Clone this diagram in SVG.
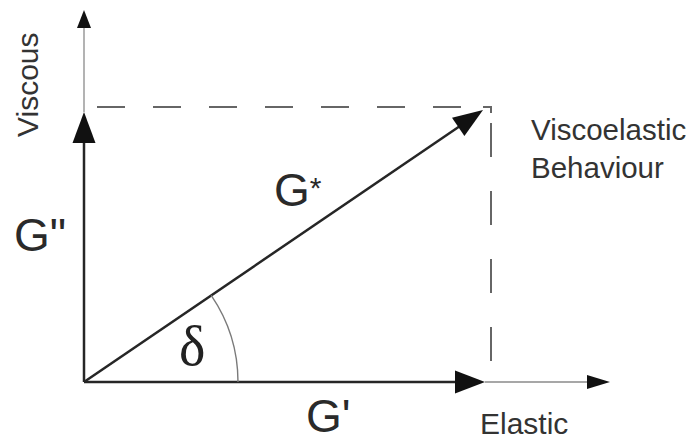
<svg xmlns="http://www.w3.org/2000/svg" width="691" height="441" viewBox="0 0 691 441">
<style>
.lbl{font-family:"Liberation Sans",Arial,sans-serif;fill:#333}
.big{font-family:"Liberation Sans",Arial,sans-serif;font-size:46px;fill:#2a2a2a}
.thin{stroke:#8a8a8a;stroke-width:1.3;fill:none}
.vec{stroke:#262626;stroke-width:2.5;fill:none}
.head{fill:#111}
.dash{stroke:#666;stroke-width:2;fill:none}
</style>
<rect width="691" height="441" fill="#fff"/>
<g id="connectors">
  <path class="thin" d="M84 112 V28"/>
  <polygon class="head" points="84,10 77,28 91,28"/>
  <path class="thin" d="M485 382 H590"/>
  <polygon class="head" points="610,382 587,375 587,389"/>
  <path class="dash" d="M84 107 H483" stroke-dasharray="28 28" stroke-dashoffset="43"/>
  <path class="dash" d="M483 107 H491 V113"/>
  <path class="dash" d="M491 107 V382" stroke-dasharray="34 34" stroke-dashoffset="52"/>
  <path class="vec" d="M84 382 V140"/>
  <polygon class="head" points="84,112 72.5,143 95.5,143"/>
  <path class="vec" d="M84 382 H458"/>
  <polygon class="head" points="485,382 455,370.5 455,393.5"/>
  <path class="vec" d="M84 382 L460 126"/>
  <polygon class="head" points="483,110 452,117.8 464.4,136"/>
  <path d="M238 382 A154 154 0 0 0 211.2 295.3" fill="none" stroke="#7a7a7a" stroke-width="1.4"/>
</g>
<g id="viscous-axis">
  <text class="lbl" font-size="30" transform="translate(38,137) rotate(-90)">Viscous</text>
</g>
<g id="elastic-axis">
  <text class="lbl" font-size="30" x="480" y="434">Elastic</text>
</g>
<g id="g-double-prime">
  <text class="big" x="14" y="251">G"</text>
</g>
<g id="g-prime">
  <text class="big" font-size="44" x="306" y="432">G'</text>
</g>
<g id="g-star">
  <text class="big" x="274" y="206">G<tspan font-size="30" dy="-8">*</tspan></text>
</g>
<g id="delta">
  <text x="179" y="365" font-family="'Liberation Serif','Times New Roman',serif" font-size="56" fill="#222">δ</text>
</g>
<g id="viscoelastic">
  <text class="lbl" font-size="29.5" x="531" y="140">Viscoelastic</text>
  <text class="lbl" font-size="29.5" x="531" y="178">Behaviour</text>
</g>
</svg>
